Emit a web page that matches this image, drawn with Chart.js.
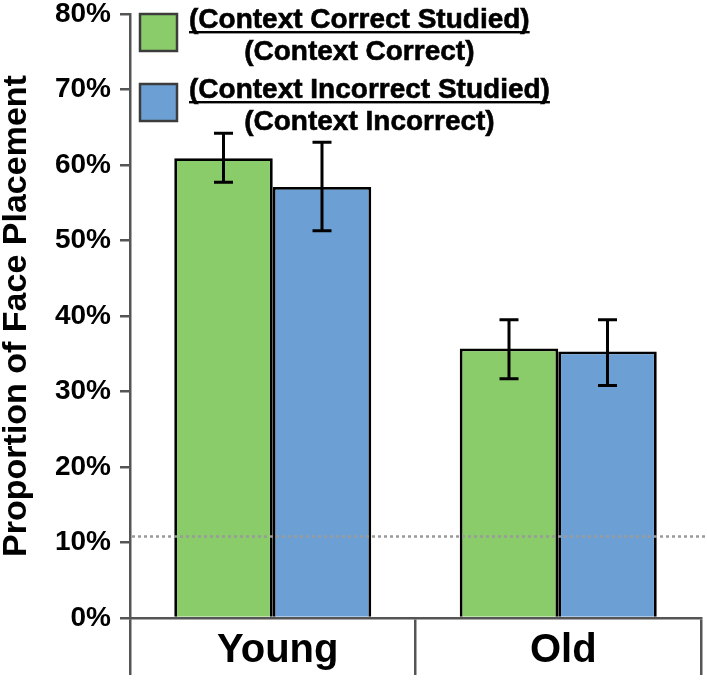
<!DOCTYPE html>
<html>
<head>
<meta charset="utf-8">
<script src="https://cdn.jsdelivr.net/npm/chart.js@4/dist/chart.umd.min.js"></script>
<style>
  html, body { margin: 0; padding: 0; background: #ffffff; }
  #wrap { width: 707px; height: 680px; position: relative; }
</style>
</head>
<body>
<div id="wrap"><canvas id="c" width="707" height="680"></canvas></div>
<script>
// ---- data ----
const categories = ['Young', 'Old'];
const seriesNames = ['Context Correct Studied / Context Correct', 'Context Incorrect Studied / Context Incorrect'];
const legendNumerators = ['(Context Correct Studied)', '(Context Incorrect Studied)'];
const legendDenominators = ['(Context Correct)', '(Context Incorrect)'];
const correctMeans = [60.9, 35.7];
const incorrectMeans = [57.1, 35.3];
const correctLow = [57.7, 31.7];
const correctHigh = [64.2, 39.5];
const incorrectLow = [51.3, 30.8];
const incorrectHigh = [63.0, 39.5];
const chanceLevel = 10.8;
const yTickValues = [0, 10, 20, 30, 40, 50, 60, 70, 80];

const errLow = [correctLow, incorrectLow];
const errHigh = [correctHigh, incorrectHigh];

const FONT = "'Liberation Sans', Arial, Helvetica, sans-serif";
const AXIS_GREY = '#555555';

const chancePlugin = {
  id: 'chance',
  afterDatasetsDraw(chart) {
    const ctx = chart.ctx, y = chart.scales.y.getPixelForValue(chanceLevel);
    ctx.save();
    ctx.strokeStyle = '#9a9a9a';
    ctx.lineWidth = 2.5;
    ctx.setLineDash([3, 3]);
    ctx.beginPath();
    ctx.moveTo(chart.chartArea.left + 2, y);
    ctx.lineTo(chart.width, y);
    ctx.stroke();
    ctx.restore();
  }
};

const errorBarPlugin = {
  id: 'errorBars',
  afterDatasetsDraw(chart) {
    const ctx = chart.ctx, ys = chart.scales.y;
    ctx.save();
    ctx.strokeStyle = '#000000';
    ctx.lineWidth = 3;
    chart.data.datasets.forEach((ds, i) => {
      const meta = chart.getDatasetMeta(i);
      meta.data.forEach((el, j) => {
        const x = el.x;
        const y1 = ys.getPixelForValue(errLow[i][j]);
        const y2 = ys.getPixelForValue(errHigh[i][j]);
        const cap = 9.5;
        ctx.beginPath();
        ctx.moveTo(x, y1); ctx.lineTo(x, y2);
        ctx.moveTo(x - cap, y1); ctx.lineTo(x + cap, y1);
        ctx.moveTo(x - cap, y2); ctx.lineTo(x + cap, y2);
        ctx.stroke();
      });
    });
    ctx.restore();
  }
};

const fractionLegendPlugin = {
  id: 'fractionLegend',
  afterDraw(chart) {
    const ctx = chart.ctx;
    ctx.save();
    const boxX = 140, boxSize = 37, textX = 189;
    const rowTops = [14, 84];
    chart.data.datasets.forEach((ds, i) => {
      const top = rowTops[i];
      ctx.fillStyle = ds.backgroundColor;
      ctx.fillRect(boxX, top, boxSize, boxSize);
      ctx.strokeStyle = '#3c3c3c';
      ctx.lineWidth = 2.5;
      ctx.strokeRect(boxX, top, boxSize, boxSize);

      ctx.font = 'bold 28px ' + FONT;
      ctx.fillStyle = '#000000';
      ctx.strokeStyle = '#000000';
      ctx.lineWidth = 0.6;
      ctx.textBaseline = 'alphabetic';
      ctx.textAlign = 'left';
      const num = legendNumerators[i];
      const w = ctx.measureText(num).width;
      const base1 = top + 14;
      ctx.fillText(num, textX, base1);
      ctx.strokeText(num, textX, base1);
      ctx.fillRect(textX, base1 + 3, w, 2.4);
      ctx.textAlign = 'center';
      ctx.fillText(legendDenominators[i], textX + w / 2, base1 + 32);
      ctx.strokeText(legendDenominators[i], textX + w / 2, base1 + 32);
    });
    ctx.restore();
  }
};

new Chart(document.getElementById('c'), {
  type: 'bar',
  data: {
    labels: categories,
    datasets: [
      { label: seriesNames[0], data: correctMeans, backgroundColor: '#8acb6a', borderColor: '#000000', borderWidth: 2.8 },
      { label: seriesNames[1], data: incorrectMeans, backgroundColor: '#6ca0d4', borderColor: '#000000', borderWidth: 2.8 }
    ]
  },
  options: {
    responsive: false,
    animation: false,
    devicePixelRatio: 1,
    layout: { padding: { top: 14, right: 6, left: 0, bottom: 0 } },
    datasets: { bar: { categoryPercentage: 0.69, barPercentage: 1.0 } },
    plugins: { legend: { display: false }, tooltip: { enabled: false } },
    scales: {
      x: {
        offset: true,
        grid: { display: true, drawOnChartArea: false, offset: true, color: AXIS_GREY, lineWidth: 2.5, tickLength: 57 },
        border: { display: true, color: AXIS_GREY, width: 2.5 },
        ticks: { color: '#000000', font: { family: FONT, size: 40, weight: 'bold', lineHeight: 1 }, padding: -44, labelOffset: 5 },
        afterFit(scale) { scale.height = 62; scale.paddingLeft = 0; scale.paddingRight = 0; }
      },
      y: {
        min: 0, max: 80,
        afterBuildTicks(scale) { scale.ticks = yTickValues.map(v => ({ value: v })); },
        grid: { display: true, drawOnChartArea: false, color: AXIS_GREY, lineWidth: 2.5, tickLength: 10 },
        border: { display: true, color: AXIS_GREY, width: 2.5 },
        ticks: { color: '#000000', font: { family: FONT, size: 28, weight: 'bold', lineHeight: 1 }, padding: 9,
                 callback: v => v + '%' },
        title: { display: true, text: 'Proportion of Face Placement', color: '#000000',
                 font: { family: FONT, size: 34, weight: 'bold', lineHeight: 1 }, padding: { top: 0, bottom: 0 } },
        afterFit(scale) { scale.width = 130; scale.paddingTop = 0; scale.paddingBottom = 0; }
      }
    }
  },
  plugins: [chancePlugin, errorBarPlugin, fractionLegendPlugin]
});
</script>
</body>
</html>
